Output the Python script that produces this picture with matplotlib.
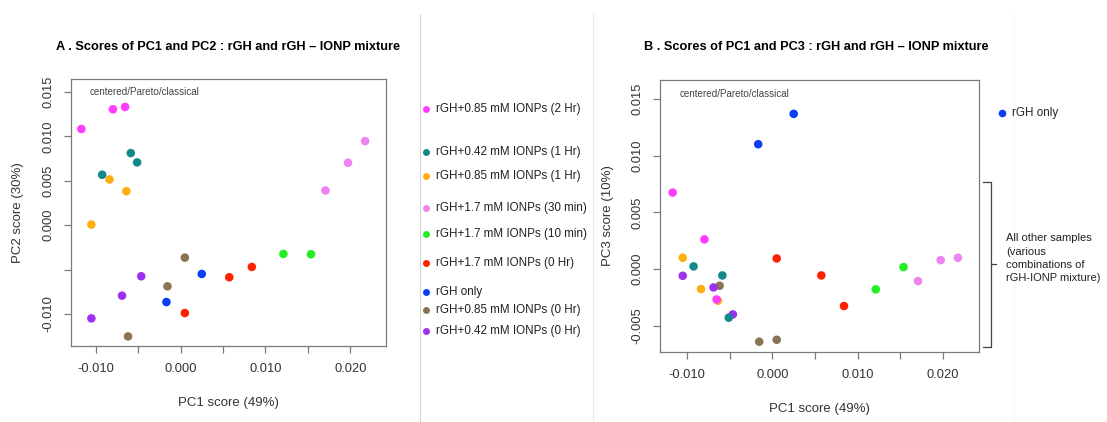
import matplotlib
matplotlib.use("Agg")
import matplotlib.pyplot as plt
from matplotlib.lines import Line2D

plt.rcParams["font.family"] = ["Liberation Sans", "DejaVu Sans"]

# sample groups, in legend order
labels = ["rGH+0.85 mM IONPs (2 Hr)", "rGH+0.42 mM IONPs (1 Hr)", "rGH+0.85 mM IONPs (1 Hr)",
          "rGH+1.7 mM IONPs (30 min)", "rGH+1.7 mM IONPs (10 min)", "rGH+1.7 mM IONPs (0 Hr)",
          "rGH only", "rGH+0.85 mM IONPs (0 Hr)", "rGH+0.42 mM IONPs (0 Hr)"]
colors = ["#FF3CFF", "#128A8A", "#FFAE10", "#EE82EE", "#22EE22", "#FF2200",
          "#0A3DF5", "#8B7355", "#A030F0"]

# PCA scores per group (same sample order in each array)
pc1 = [[-0.01168, -0.00796, -0.00653], [-0.00586, -0.00511, -0.00923], [-0.00836, -0.00638, -0.01050],
       [0.01707, 0.01972, 0.02174], [0.01212, 0.01537], [0.00574, 0.00840, 0.00051],
       [0.00250, -0.00166], [0.00051, -0.00154, -0.00618], [-0.00463, -0.00689, -0.01050]]
pc2 = [[0.01083, 0.01305, 0.01331], [0.00812, 0.00707, 0.00568], [0.00515, 0.00383, 0.00008],
       [0.00391, 0.00703, 0.00947], [-0.00323, -0.00327], [-0.00586, -0.00470, -0.00989],
       [-0.00549, -0.00865], [-0.00365, -0.00688, -0.01252], [-0.00575, -0.00793, -0.01049]]
pc3 = [[0.00676, 0.00262, -0.00268], [-0.00056, -0.00429, 0.00024], [-0.00176, -0.00279, 0.00100],
       [-0.00106, 0.00079, 0.00100], [-0.00179, 0.00018], [-0.00056, -0.00326, 0.00094],
       [0.01371, 0.01103], [-0.00624, -0.00641, -0.00147], [-0.00400, -0.00162, -0.00059]]

draw_order = [7, 8, 1, 2, 0, 5, 4, 3, 6]
xticks = [-0.010, -0.005, 0.000, 0.005, 0.010, 0.015, 0.020]
xticklabels = ["-0.010", "", "0.000", "", "0.010", "", "0.020"]
yticks2 = [-0.010, -0.005, 0.000, 0.005, 0.010, 0.015]
yticklabels2 = ["-0.010", "", "0.000", "0.005", "0.010", "0.015"]
yticks3 = [-0.005, 0.000, 0.005, 0.010, 0.015]
yticklabels3 = ["-0.005", "0.000", "0.005", "0.010", "0.015"]

W, H = 1107, 422
fig = plt.figure(figsize=(W / 100, H / 100), dpi=100)


def fx(x):
    return x / W


def fy(y):
    return 1 - y / H


def style_axes(ax):
    for s in ax.spines.values():
        s.set_color("#7a7a7a")
        s.set_linewidth(0.9)
    ax.tick_params(direction="out", length=5, width=0.9, color="#7a7a7a",
                   labelsize=9.3, labelcolor="#333333", pad=7)
    ax.tick_params(axis="y", labelrotation=90)
    for t in ax.get_yticklabels():
        t.set_va("center")
    ax.text(0.06, 0.95, "centered/Pareto/classical", transform=ax.transAxes,
            fontsize=7.1, color="#444444", va="center")


def score_plot(rect, ys, yticks, yticklabels, xlim, ylim, ylabel, title, title_x):
    ax = fig.add_axes(rect)
    for g in draw_order:
        ax.scatter(pc1[g], ys[g], s=38, color=colors[g], edgecolors="none", zorder=3)
    ax.set_xlim(*xlim)
    ax.set_ylim(*ylim)
    ax.set_xticks(xticks)
    ax.set_xticklabels(xticklabels)
    ax.set_yticks(yticks)
    ax.set_yticklabels(yticklabels)
    style_axes(ax)
    ax.set_xlabel("PC1 score (49%)", fontsize=9.5, color="#333333")
    ax.set_ylabel(ylabel, fontsize=9.5, color="#333333")
    fig.text(fx(title_x), fy(47.5), title, fontsize=9.2, fontweight="bold",
             ha="center", va="center")
    return ax


axA = score_plot([fx(71), 1 - 346 / H, 315 / W, 267 / H], pc2, yticks2, yticklabels2,
                 (-0.0129, 0.0242), (-0.0136, 0.01646), "PC2 score (30%)",
                 "A . Scores of PC1 and PC2 : rGH and rGH \u2013 IONP mixture", 228.5)
axA.yaxis.set_label_coords(-0.150, 0.5)
axA.xaxis.set_label_coords(0.5, -0.19)

axB = score_plot([fx(660.3), 1 - 352 / H, 319 / W, 272 / H], pc3, yticks3, yticklabels3,
                 (-0.01313, 0.02425), (-0.00732, 0.0167), "PC3 score (10%)",
                 "B . Scores of PC1 and PC3 : rGH and rGH \u2013 IONP mixture", 816)
axB.yaxis.set_label_coords(-0.146, 0.5)
axB.xaxis.set_label_coords(0.5, -0.1875)

# legend for panel A
legend_y = [109, 151.7, 176, 208.3, 234, 263.3, 291.7, 310, 330.7]
for lab, col, y in zip(labels, colors, legend_y):
    fig.add_artist(Line2D([fx(425.7)], [fy(y)], marker="o", markersize=5,
                          color=col, markeredgewidth=0))
    fig.text(fx(436), fy(y), lab, fontsize=8.4, color="#222222", va="center")

# panel B annotations
fig.add_artist(Line2D([fx(1002)], [fy(113)], marker="o", markersize=5.5,
                      color=colors[6], markeredgewidth=0))
fig.text(fx(1012), fy(113), "rGH only", fontsize=8.4, color="#222222", va="center")

bx = [983.3, 990.7, 990.7, 983.3]
by = [181.7, 181.7, 346.7, 346.7]
fig.add_artist(Line2D([fx(v) for v in bx], [fy(v) for v in by], color="#444444", lw=0.9))
fig.add_artist(Line2D([fx(990.7), fx(995.5)], [fy(264.3), fy(264.3)], color="#444444", lw=0.9))
fig.text(fx(1006), fy(258.2), "All other samples\n(various\ncombinations of\nrGH-IONP mixture)",
         fontsize=8.0, color="#222222", va="center", linespacing=1.42)

# panel separators
for x, c in [(419.5, "#d6d6d6"), (593, "#e8e8e8"), (1014, "#f6f6f6")]:
    fig.add_artist(Line2D([fx(x), fx(x)], [fy(14), 0], color=c, lw=0.8))

fig.savefig("out.png", dpi=100, facecolor="white")
